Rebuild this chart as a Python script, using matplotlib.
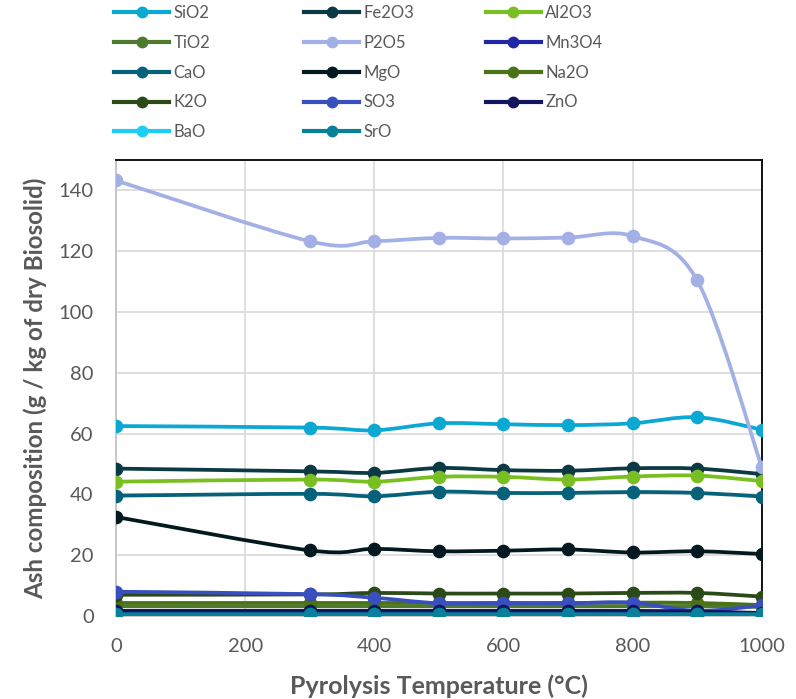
import matplotlib
matplotlib.use("Agg")
import matplotlib.pyplot as plt
from matplotlib.path import Path
from matplotlib.patches import PathPatch
from matplotlib.lines import Line2D

plt.rcParams['font.family'] = ['Lato', 'DejaVu Sans']

temps = [0, 300, 400, 500, 600, 700, 800, 900, 1000]

names = ['SiO2', 'Fe2O3', 'Al2O3', 'TiO2', 'P2O5', 'Mn3O4', 'CaO',
         'MgO', 'Na2O', 'K2O', 'SO3', 'ZnO', 'BaO', 'SrO']

sio2 = [62.5, 62.0, 61.1, 63.4, 63.1, 62.8, 63.4, 65.4, 61.3]
fe2o3 = [48.5, 47.6, 47.1, 48.7, 48.0, 47.8, 48.6, 48.5, 46.7]
al2o3 = [44.2, 44.9, 44.2, 45.8, 45.8, 44.9, 45.9, 46.2, 44.4]
tio2 = [3.2, 3.2, 3.2, 3.2, 3.2, 3.2, 3.2, 3.2, 3.0]
p2o5 = [143.3, 123.3, 123.3, 124.4, 124.2, 124.5, 125.0, 110.4, 49.0]
mn3o4 = [1.0, 1.0, 1.0, 1.0, 1.0, 1.0, 1.0, 0.3, 0.2]
cao = [39.6, 40.2, 39.4, 40.9, 40.5, 40.5, 40.8, 40.5, 39.3]
mgo = [32.6, 21.6, 22.1, 21.3, 21.5, 21.9, 20.9, 21.3, 20.4]
na2o = [4.3, 4.3, 4.3, 4.3, 4.3, 4.3, 4.4, 4.3, 3.6]
k2o = [7.0, 7.1, 7.6, 7.4, 7.4, 7.4, 7.6, 7.6, 6.4]
so3 = [8.0, 7.2, 6.0, 4.2, 4.2, 4.2, 4.4, 1.7, 3.5]
zno = [1.7, 1.7, 1.7, 1.7, 1.7, 1.7, 1.7, 1.5, 1.0]
bao = [0.4, 0.4, 0.4, 0.4, 0.4, 0.4, 0.4, 0.4, 0.4]
sro = [0.6, 0.6, 0.6, 0.6, 0.6, 0.6, 0.6, 0.6, 0.6]

series = [sio2, fe2o3, al2o3, tio2, p2o5, mn3o4, cao,
          mgo, na2o, k2o, so3, zno, bao, sro]

colors = ['#0aa8d2', '#0b3a44', '#7abf21', '#4e7a2f', '#a3b0e6', '#1f27a6',
          '#06627a', '#02191f', '#4a7317', '#2b4a18', '#3a4fbf', '#13165e',
          '#1ccdf5', '#07809a']


def smooth_path(xs, ys):
    # Excel-style smoothed line: cubic Bezier through every point
    pts = list(zip(xs, ys))
    verts = [pts[0]]
    codes = [Path.MOVETO]
    n = len(pts)
    for i in range(n - 1):
        p0 = pts[i - 1] if i > 0 else pts[i]
        p1 = pts[i]
        p2 = pts[i + 1]
        p3 = pts[i + 2] if i + 2 < n else pts[i + 1]
        c1 = (p1[0] + (p2[0] - p0[0]) / 6, p1[1] + (p2[1] - p0[1]) / 6)
        c2 = (p2[0] - (p3[0] - p1[0]) / 6, p2[1] - (p3[1] - p1[1]) / 6)
        verts += [c1, c2, p2]
        codes += [Path.CURVE4] * 3
    return Path(verts, codes)


fig = plt.figure(figsize=(7.96, 6.99), dpi=100)
ax = fig.add_axes([0.1457, 0.1187, 0.8113, 0.6523])

for i, (name, vals, col) in enumerate(zip(names, series, colors)):
    ax.add_patch(PathPatch(smooth_path(temps, vals), fill=False,
                           edgecolor=col, lw=2.7, zorder=3 + i * 0.1,
                           capstyle='round', joinstyle='round'))
    ax.plot(temps, vals, 'o', color=col, markersize=8.8, zorder=3 + i * 0.1 + 0.05)

ax.set_xlim(0, 1000)
ax.set_ylim(0, 150)
ax.set_xticks(range(0, 1001, 200))
ax.set_yticks(range(0, 141, 20))
ax.grid(True, color='#d9d9d9', lw=1.2, zorder=0)
ax.set_axisbelow(True)
ax.tick_params(length=0, labelsize=14.5, labelcolor='#595959', pad=16)
for s in ['top', 'right']:
    ax.spines[s].set_color('black')
    ax.spines[s].set_linewidth(1.3)
for s in ['left', 'bottom']:
    ax.spines[s].set_color('#bfbfbf')
    ax.spines[s].set_linewidth(1.2)

ax.set_xlabel('Pyrolysis Temperature (°C)', fontsize=18, fontweight='bold',
              color='#595959', labelpad=14)
ax.set_ylabel('Ash composition (g / kg of dry Biosolid)', fontsize=17.4,
              fontweight='bold', color='#595959', labelpad=8)

# legend: three columns placed like the original, filled row by row
col_x = [0.133, 0.372, 0.600]
for c in range(3):
    idx = list(range(c, len(names), 3))
    handles = [Line2D([], [], color=colors[k], lw=3, marker='o', markersize=7.5)
               for k in idx]
    fig.legend(handles, [names[k] for k in idx], loc='upper left',
               bbox_to_anchor=(col_x[c], 1.005), frameon=False, fontsize=12,
               handlelength=3.3, handletextpad=0.25, labelspacing=0.83,
               labelcolor='#595959', borderpad=0.0)

fig.savefig('out.png', dpi=100)
